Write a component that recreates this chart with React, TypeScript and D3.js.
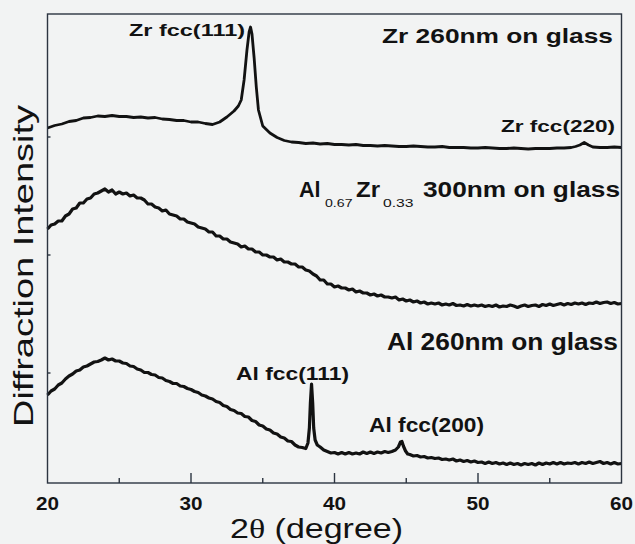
import React, { useEffect, useRef } from "react";
import * as d3 from "d3";

// 2-theta (deg) vs intensity (a.u.)
const zrFilm: [number, number][] = [
  [20, 355], [20.5, 357.5], [21, 359], [21.5, 361.5], [22, 362.5], [22.5, 365], [23, 365.5],
  [23.5, 367], [24, 366.5], [24.5, 367.5], [25, 366.5], [25.5, 366.5], [26, 365.5], [26.5, 366],
  [27, 365], [27.5, 365.5], [28, 364], [28.5, 363.5], [29, 362.5], [29.5, 362.5], [30, 361],
  [30.5, 361], [31, 359.5], [31.5, 358.5], [32, 361], [32.5, 366], [33, 372], [33.3, 377],
  [33.5, 383], [33.7, 403], [33.9, 433], [34.05, 451], [34.15, 456], [34.25, 449], [34.4, 425],
  [34.55, 396], [34.7, 373], [35, 357], [35.5, 350], [36, 345.5], [36.5, 342.5], [37, 341],
  [37.5, 340.5], [38, 339.5], [38.5, 340], [39, 339], [39.5, 339.5], [40, 338.5], [40.5, 338.5],
  [41, 338], [41.5, 338.5], [42, 337.5], [42.5, 337.5], [43, 337], [43.5, 337.5], [44, 337],
  [44.5, 336.5], [45, 336.5], [45.5, 337], [46, 336.5], [46.5, 336], [47, 336], [47.5, 336.5],
  [48, 335.5], [48.5, 335.5], [49, 335.5], [49.5, 335], [50, 335], [50.5, 335.5], [51, 335],
  [51.5, 334.5], [52, 334.5], [52.5, 335], [53, 334.5], [53.5, 334], [54, 334.5], [54.5, 334.5],
  [55, 334.5], [55.5, 335], [56, 335], [56.5, 335.5], [56.8, 336.5], [57.1, 338], [57.4, 340.5],
  [57.7, 338], [58, 336], [58.5, 335.5], [59, 335.5], [59.5, 336], [60, 335.5],
];

const alZrFilm: [number, number][] = [
  [20, 254], [20.25, 258], [20.5, 259], [20.75, 262], [21, 262], [21.25, 267], [21.5, 269],
  [21.75, 274], [22, 275], [22.25, 280], [22.5, 280], [22.75, 284], [23, 285], [23.25, 289],
  [23.5, 290], [23.75, 292], [24, 294], [24.25, 291], [24.5, 293], [24.75, 289], [25, 291],
  [25.25, 289], [25.5, 290], [25.75, 287], [26, 288], [26.25, 285], [26.5, 285], [26.75, 283],
  [27, 279], [27.25, 279], [27.5, 276], [27.75, 275], [28, 272], [28.25, 273], [28.5, 269],
  [28.75, 268], [29, 267], [29.25, 264], [29.5, 264], [29.75, 261], [30, 260], [30.25, 259],
  [30.5, 256], [30.75, 255], [31, 254], [31.25, 251], [31.5, 251], [31.75, 247], [32, 247],
  [32.25, 244], [32.5, 244], [32.75, 241], [33, 240], [33.25, 239], [33.5, 236], [33.75, 237],
  [34, 234], [34.25, 234], [34.5, 231], [34.75, 231], [35, 228], [35.25, 228], [35.5, 226],
  [35.75, 226], [36, 223], [36.25, 224], [36.5, 221], [36.75, 221], [37, 219], [37.25, 219],
  [37.5, 216], [37.75, 216], [38, 213], [38.25, 212], [38.5, 209], [38.75, 207], [39, 203],
  [39.25, 203], [39.5, 199], [39.75, 199], [40, 196], [40.25, 197], [40.5, 195], [40.75, 195],
  [41, 193], [41.25, 194], [41.5, 191], [41.75, 192], [42, 190], [42.25, 190], [42.5, 188],
  [42.75, 189], [43, 187], [43.25, 188], [43.5, 186], [43.75, 186], [44, 185], [44.25, 186],
  [44.5, 183], [44.75, 184], [45, 182], [45.25, 183], [45.5, 181], [45.75, 182], [46, 180],
  [46.25, 181], [46.5, 179], [46.75, 180], [47, 179], [47.25, 180], [47.5, 178], [47.75, 179],
  [48, 178], [48.25, 179.5], [48.5, 177.5], [48.75, 178], [49, 177], [49.25, 178.5], [49.5, 177],
  [49.75, 178], [50, 177], [50.25, 178], [50.5, 176.5], [50.75, 177.5], [51, 176.5], [51.25, 178],
  [51.5, 176], [51.75, 177], [52, 176.5], [52.25, 178], [52.5, 177], [52.75, 175.5], [53, 177],
  [53.25, 178], [53.5, 176.5], [53.75, 177.5], [54, 178], [54.25, 176.5], [54.5, 178.5],
  [54.75, 177.5], [55, 179], [55.25, 177.5], [55.5, 178.5], [55.75, 179.5], [56, 178],
  [56.25, 179.5], [56.5, 178.5], [56.75, 180], [57, 179], [57.25, 180], [57.5, 178.5], [57.75, 180],
  [58, 179.5], [58.25, 181], [58.5, 179.5], [58.75, 180.5], [59, 181], [59.25, 179.5], [59.5, 180.5],
  [59.75, 179], [60, 179.5],
];

const alFilm: [number, number][] = [
  [20, 88], [20.25, 92], [20.5, 94], [20.75, 98], [21, 100], [21.25, 104], [21.5, 107],
  [21.75, 109], [22, 112], [22.25, 113], [22.5, 116], [22.75, 117], [23, 119], [23.25, 121],
  [23.5, 121.5], [23.75, 123], [24, 125], [24.25, 123], [24.5, 124], [24.75, 122], [25, 122],
  [25.25, 120], [25.5, 119.5], [25.75, 117], [26, 116.5], [26.25, 114], [26.5, 113], [26.75, 110.5],
  [27, 110.5], [27.25, 108.5], [27.5, 108], [27.75, 105.5], [28, 105], [28.25, 102.5], [28.5, 101.5],
  [28.75, 99.5], [29, 99.5], [29.25, 97], [29.5, 96.5], [29.75, 94.5], [30, 93.5], [30.25, 91.5],
  [30.5, 90.5], [30.75, 88], [31, 87], [31.25, 85], [31.5, 84], [31.75, 81.5], [32, 80.5],
  [32.25, 77.5], [32.5, 76.5], [32.75, 73.5], [33, 72.5], [33.25, 70], [33.5, 69.5], [33.75, 66.5],
  [34, 66], [34.25, 62.5], [34.5, 61.5], [34.75, 58], [35, 57], [35.25, 54], [35.5, 53],
  [35.75, 50], [36, 49], [36.25, 46], [36.5, 45], [36.75, 42], [37, 41.5], [37.25, 38], [37.5, 36],
  [37.75, 35.5], [38, 34.5], [38.15, 40], [38.25, 55], [38.32, 80], [38.4, 99], [38.48, 80],
  [38.55, 55], [38.65, 43], [38.8, 38], [39, 36], [39.25, 33], [39.5, 31.5], [39.75, 30],
  [40, 30.5], [40.25, 29], [40.5, 30.5], [40.75, 29], [41, 30.5], [41.25, 29], [41.5, 30],
  [41.75, 29], [42, 31], [42.25, 29.5], [42.5, 31], [42.75, 29.5], [43, 31], [43.25, 30],
  [43.5, 31.5], [43.75, 30.5], [44, 31.5], [44.25, 33], [44.45, 36], [44.6, 41], [44.7, 41.5],
  [44.8, 37], [44.95, 32], [45.1, 29], [45.25, 28.5], [45.5, 27], [45.75, 27.5], [46, 26],
  [46.25, 26.5], [46.5, 25], [46.75, 25.5], [47, 24.5], [47.25, 25], [47.5, 23.5], [47.75, 24],
  [48, 23], [48.25, 24], [48.5, 22], [48.75, 23], [49, 21.5], [49.25, 22.5], [49.5, 21],
  [49.75, 22], [50, 20.5], [50.25, 21], [50.5, 19.5], [50.75, 21], [51, 19.5], [51.25, 20.5],
  [51.5, 19], [51.75, 20], [52, 18.5], [52.25, 20], [52.5, 18.5], [52.75, 19.5], [53, 18],
  [53.25, 19.5], [53.5, 18.5], [53.75, 19.5], [54, 18], [54.25, 20], [54.5, 18.5], [54.75, 20],
  [55, 19], [55.25, 20.5], [55.5, 19], [55.75, 20.5], [56, 19], [56.25, 20], [56.5, 19.5],
  [56.75, 20.5], [57, 19], [57.25, 20.5], [57.5, 19.5], [57.75, 21], [58, 19.5], [58.25, 20.5],
  [58.5, 21.5], [58.75, 19.5], [59, 20.5], [59.25, 19], [59.5, 20.5], [59.75, 19], [60, 19.5],
];

const xMajorTicks = [20, 30, 40, 50, 60];
const xMinorTicks = [25, 35, 45, 55];
const yTicks = [110, 228, 346];

const W = 635;
const H = 544;

export default function App() {
  const svgRef = useRef<SVGSVGElement>(null);

  useEffect(() => {
    if (!svgRef.current) return;
    const svg = d3.select(svgRef.current);
    svg.selectAll("*").remove();

    const margin = { top: 14, right: 13.5, bottom: 61, left: 47.5 };
    const x = d3.scaleLinear().domain([20, 60]).range([margin.left, W - margin.right]);
    const y = d3.scaleLinear().domain([0, 469]).range([H - margin.bottom, margin.top]);

    const font = "'Liberation Sans', Arial, sans-serif";
    const ink = "#121212";
    const frame = "#2c3440";

    svg.append("rect").attr("width", W).attr("height", H).attr("fill", "#f2f3f3");

    const line = d3
      .line<[number, number]>()
      .x((d) => x(d[0]))
      .y((d) => y(d[1]));

    const series = [
      { data: zrFilm, w: 2.8 },
      { data: alZrFilm, w: 3.2 },
      { data: alFilm, w: 3.2 },
    ];
    series.forEach((s) => {
      svg
        .append("path")
        .datum(s.data)
        .attr("d", line)
        .attr("fill", "none")
        .attr("stroke", ink)
        .attr("stroke-width", s.w)
        .attr("stroke-linejoin", "round");
    });

    // frame
    svg
      .append("rect")
      .attr("x", x(20))
      .attr("y", y(469))
      .attr("width", x(60) - x(20))
      .attr("height", y(0) - y(469))
      .attr("fill", "none")
      .attr("stroke", frame)
      .attr("stroke-width", 1.4);

    const yb = y(0);
    svg
      .selectAll(".xmaj")
      .data(xMajorTicks.slice(1, -1))
      .enter()
      .append("line")
      .attr("x1", (d) => x(d))
      .attr("x2", (d) => x(d))
      .attr("y1", yb)
      .attr("y2", yb - 10)
      .attr("stroke", frame)
      .attr("stroke-width", 1.4);
    svg
      .selectAll(".xmin")
      .data(xMinorTicks)
      .enter()
      .append("line")
      .attr("x1", (d) => x(d))
      .attr("x2", (d) => x(d))
      .attr("y1", yb)
      .attr("y2", yb - 5)
      .attr("stroke", frame)
      .attr("stroke-width", 1.4);
    svg
      .selectAll(".ytk")
      .data(yTicks)
      .enter()
      .append("line")
      .attr("x1", x(20))
      .attr("x2", x(20) + 3)
      .attr("y1", (d) => y(d))
      .attr("y2", (d) => y(d))
      .attr("stroke", frame)
      .attr("stroke-width", 1.4);

    svg
      .selectAll(".xlab")
      .data(xMajorTicks)
      .enter()
      .append("text")
      .attr("x", (d) => x(d) - 11.5)
      .attr("y", 509.5)
      .attr("textLength", 23)
      .attr("lengthAdjust", "spacingAndGlyphs")
      .style("font-family", font)
      .style("font-size", "17.5px")
      .style("font-weight", "bold")
      .style("fill", ink)
      .text((d) => String(d));

    const xt = svg
      .append("text")
      .attr("x", 230)
      .attr("y", 538)
      .attr("textLength", 173)
      .attr("lengthAdjust", "spacingAndGlyphs")
      .style("font-family", font)
      .style("font-size", "28px")
      .style("fill", ink);
    xt.append("tspan").text("2");
    xt.append("tspan").style("font-family", "'Liberation Serif', serif").text("θ");
    xt.append("tspan").text(" (degree)");

    svg
      .append("text")
      .attr("transform", "translate(33,427) rotate(-90)")
      .attr("textLength", 322)
      .attr("lengthAdjust", "spacingAndGlyphs")
      .style("font-family", font)
      .style("font-size", "28px")
      .style("fill", ink)
      .text("Diffraction Intensity");

    const label = (
      t: string,
      lx: number,
      ly: number,
      size: number,
      len: number,
      bold = true,
    ) =>
      svg
        .append("text")
        .attr("x", lx)
        .attr("y", ly)
        .attr("textLength", len)
        .attr("lengthAdjust", "spacingAndGlyphs")
        .style("font-family", font)
        .style("font-size", `${size}px`)
        .style("font-weight", bold ? "bold" : "normal")
        .style("fill", ink)
        .text(t);

    label("Zr 260nm on glass", 382, 43, 21, 231);
    label("Zr fcc(111)", 129, 36, 17, 116);
    label("Zr fcc(220)", 501, 132, 16.5, 114);

    label("Al", 299, 196.5, 21.5, 21.5);
    label("0.67", 325, 206.5, 11, 27.5, false);
    label("Zr", 356, 196.5, 21.5, 24);
    label("0.33", 383, 206.5, 11, 30.5, false);
    label("300nm on glass", 423, 196.5, 21.5, 197);

    label("Al 260nm on glass", 387, 350, 23, 231);
    label("Al fcc(111)", 236, 379.5, 19, 113);
    label("Al fcc(200)", 369, 432, 19.5, 115);
  }, []);

  return (
    <svg
      ref={svgRef}
      width={W}
      height={H}
      style={{ position: "absolute", left: 0, top: 0, display: "block" }}
    />
  );
}
